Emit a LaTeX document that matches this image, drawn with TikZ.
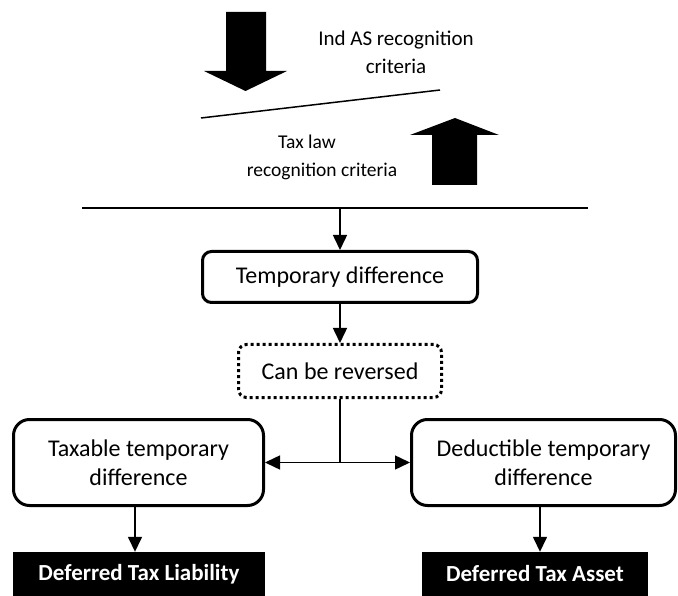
\documentclass[tikz,border=0pt]{standalone}
\usepackage{fontspec}
\setmainfont{Carlito}
\usetikzlibrary{arrows.meta}
\begin{document}
\begin{tikzpicture}[x=1pt,y=-1pt,
  txt/.style={font=\fontsize{21}{28}\selectfont, align=center, inner sep=0pt},
  smalltxt/.style={font=\fontsize{19.5}{28}\selectfont, inner sep=0pt},
  roundbox/.style={draw, line width=3pt, rounded corners=9pt, inner sep=0pt, font=\fontsize{24}{29}\selectfont, align=center},
  dotbox/.style={draw, line width=3pt, dash pattern=on 3pt off 3pt, rounded corners=8pt, inner sep=0pt, font=\fontsize{24}{29}\selectfont, align=center},
  blackbox/.style={fill=black, text=white, inner sep=0pt, font=\bfseries\fontsize{23}{26}\selectfont, align=center},
  conn/.style={line width=1.5pt, -{Triangle[length=15pt,width=14pt]}},
  plain/.style={line width=1.5pt}
]
\useasboundingbox (0,0) rectangle (678,596);

% big block arrows
\fill (226,12) -- (266,12) -- (266,71) -- (287,71) -- (245.5,91) -- (204,71) -- (226,71) -- cycle;
\fill (432,185) -- (477,185) -- (477,135) -- (499,135) -- (455,118) -- (410,135) -- (432,135) -- cycle;

% texts
\node[txt] (ind) at (396,52) {Ind AS recognition\\criteria};
\node[smalltxt] (tax1) at (307,142) {Tax law};
\node[smalltxt] (tax2) at (322,171) {recognition criteria};

% lines
\coordinate (sl1) at (201,118);
\coordinate (sl2) at (440,90);
\draw[plain] (sl1) -- (sl2);
\coordinate (hl1) at (82,208);
\coordinate (hl2) at (588,208);
\coordinate (hlm) at (340,208);
\draw[plain] (hl1) -- (hl2);

% boxes
\node[roundbox, minimum width=275pt, minimum height=51pt] (temp) at (340,277) {Temporary difference};
\node[dotbox, minimum width=203pt, minimum height=53pt] (rev) at (340,371) {Can be reversed};
\node[roundbox, rounded corners=16pt, minimum width=250pt, minimum height=86pt] (taxable) at (138.5,462.5) {Taxable temporary\\difference};
\node[roundbox, rounded corners=16pt, minimum width=264pt, minimum height=86pt] (deduct) at (543.5,462.5) {Deductible temporary\\difference};
\node[blackbox, minimum width=252pt, minimum height=44pt] (dtl) at (139,574) {Deferred Tax Liability};
\node[blackbox, minimum width=226pt, minimum height=44pt] (dta) at (535,574) {Deferred Tax Asset};

% connectors
\draw[conn] (hlm) -- (temp.north);
\draw[conn] (temp.south) -- (rev.north);
\coordinate (split) at (340,462.5);
\draw[plain] (rev.south) -- (split);
\draw[conn] (split) -- (taxable.east);
\draw[conn] (split) -- (deduct.west);
\draw[conn] (taxable.south -| 135,0) -- (dtl.north -| 135,0);
\draw[conn] (deduct.south -| 540,0) -- (dta.north -| 540,0);
\end{tikzpicture}
\end{document}
